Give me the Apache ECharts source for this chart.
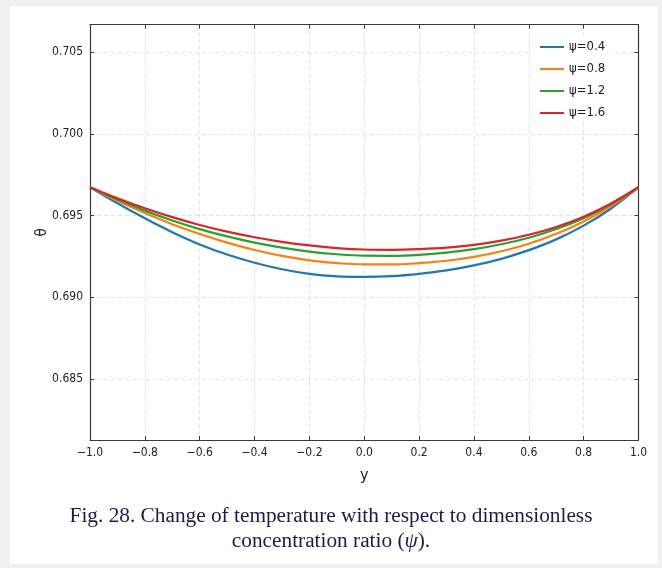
<!DOCTYPE html>
<html>
<head>
<meta charset="utf-8">
<script src="https://cdn.jsdelivr.net/npm/echarts@6/dist/echarts.min.js"></script>
<style>
html,body{margin:0;padding:0;background:#f0f0f0;}
#c{width:662px;height:568px;}
</style>
</head>
<body>
<div id="c"></div>
<script>
const xs = [-1.0,-0.9,-0.8,-0.7,-0.6,-0.5,-0.4,-0.3,-0.2,-0.1,0.0,0.1,0.2,0.3,0.4,0.5,0.6,0.7,0.8,0.9,1.0];
const psi04 = [0.69674,0.69576,0.69484,0.69399,0.69324,0.69262,0.69212,0.69172,0.69144,0.69129,0.69125,0.69130,0.69144,0.69165,0.69196,0.69236,0.69289,0.69355,0.69439,0.69544,0.69674];
const psi08 = [0.69674,0.69591,0.69516,0.69448,0.69388,0.69335,0.69290,0.69254,0.69227,0.69210,0.69202,0.69202,0.69210,0.69224,0.69248,0.69282,0.69328,0.69389,0.69465,0.69559,0.69674];
const psi12 = [0.69674,0.69599,0.69531,0.69471,0.69418,0.69373,0.69335,0.69304,0.69280,0.69264,0.69255,0.69254,0.69260,0.69274,0.69295,0.69325,0.69365,0.69418,0.69485,0.69570,0.69674];
const psi16 = [0.69674,0.69606,0.69545,0.69491,0.69443,0.69402,0.69368,0.69340,0.69318,0.69302,0.69293,0.69291,0.69295,0.69304,0.69321,0.69347,0.69383,0.69431,0.69494,0.69575,0.69674];
const seriesNames = ['ψ=0.4','ψ=0.8','ψ=1.2','ψ=1.6'];
const seriesValues = [psi04, psi08, psi12, psi16];
const colors = ['#1f77b4','#ff7f0e','#2ca02c','#d62728'];
const captionLines = ['Fig. 28. Change of temperature with respect to dimensionless', 'concentration ratio ('];

const FONT = 'DejaVu Sans Condensed, DejaVu Sans';
const frame = {show:true, onZero:false, lineStyle:{color:'#3a3a3a', width:1.2}};
const gridLine = {show:true, lineStyle:{color:'#dcdcdc', type:[4,3], width:0.8}};
const tick = {show:true, inside:true, length:4, lineStyle:{color:'#3a3a3a'}};
const yMin = 0.68127, yMax = 0.70669;

function fmtX(v){ if (Math.abs(v) < 1e-9) return '0.0'; return v.toFixed(1).replace('-', '\u2212'); }
function fmtY(v){ const k = v/0.005; if (Math.abs(k-Math.round(k)) > 1e-6) return ''; return v.toFixed(3); }

const chart = echarts.init(document.getElementById('c'), null, {renderer:'canvas'});
const capFont = '21.3px "Liberation Serif"';
chart.setOption({
  backgroundColor: '#f0f0f0',
  animation: false,
  graphic: [
    {type:'rect', left:10, top:6, shape:{width:648, height:558}, style:{fill:'#ffffff'}, z:-10},
    {type:'text', left:'center', top:506, style:{text:captionLines[0], font:capFont, fill:'#1c1c48'}},
    {type:'text', left:'center', top:531, style:{
      text:'{a|' + captionLines[1] + '}{i|ψ}{a|).}',
      rich:{a:{font:capFont, fill:'#1c1c48'}, i:{font:'italic ' + capFont, fill:'#1c1c48'}}
    }}
  ],
  grid: {left:90, right:23.5, top:24.7, bottom:128, containLabel:false},
  legend: {
    orient:'vertical', left:532, top:38, padding:[2,8,2,8], itemGap:8, itemWidth:24, itemHeight:2,
    icon:'rect',
    backgroundColor:'#ffffff',
    textStyle:{fontFamily:FONT, fontSize:13, color:'#222', lineHeight:14},
    data: seriesNames
  },
  xAxis: [
    {type:'value', min:-1, max:1, interval:0.2, position:'bottom',
     name:'y', nameLocation:'middle', nameGap:28, nameMoveOverlap:false, nameTextStyle:{fontFamily:FONT, fontSize:16, color:'#222'},
     axisLine:frame, axisTick:tick,
     axisLabel:{formatter:fmtX, margin:7, fontFamily:FONT, fontSize:12, color:'#222'},
     splitLine:gridLine},
    {type:'value', min:-1, max:1, interval:0.2, position:'top',
     axisLine:frame, axisTick:tick,
     axisLabel:{show:false}, splitLine:{show:false}}
  ],
  yAxis: [
    {type:'value', min:yMin, max:yMax, position:'left',
     name:'θ', nameLocation:'middle', nameGap:40, nameMoveOverlap:false, nameRotate:90, nameTextStyle:{fontFamily:FONT, fontSize:15, color:'#222'},
     axisLine:frame, axisTick:tick,
     axisLabel:{formatter:fmtY, showMinLabel:false, showMaxLabel:false, margin:7, fontFamily:FONT, fontSize:12, color:'#222'},
     splitLine:gridLine},
    {type:'value', min:yMin, max:yMax, position:'right',
     axisLine:frame, axisTick:tick,
     axisLabel:{show:false}, splitLine:{show:false}}
  ],
  series: seriesValues.map((vals, i) => ({
    name: seriesNames[i], type:'line', xAxisIndex:0, yAxisIndex:0,
    symbol:'none', smooth:0.4, color: colors[i],
    lineStyle:{width:2.2, color:colors[i]},
    data: xs.map((x, j) => [x, vals[j]])
  }))
});
</script>
</body>
</html>
